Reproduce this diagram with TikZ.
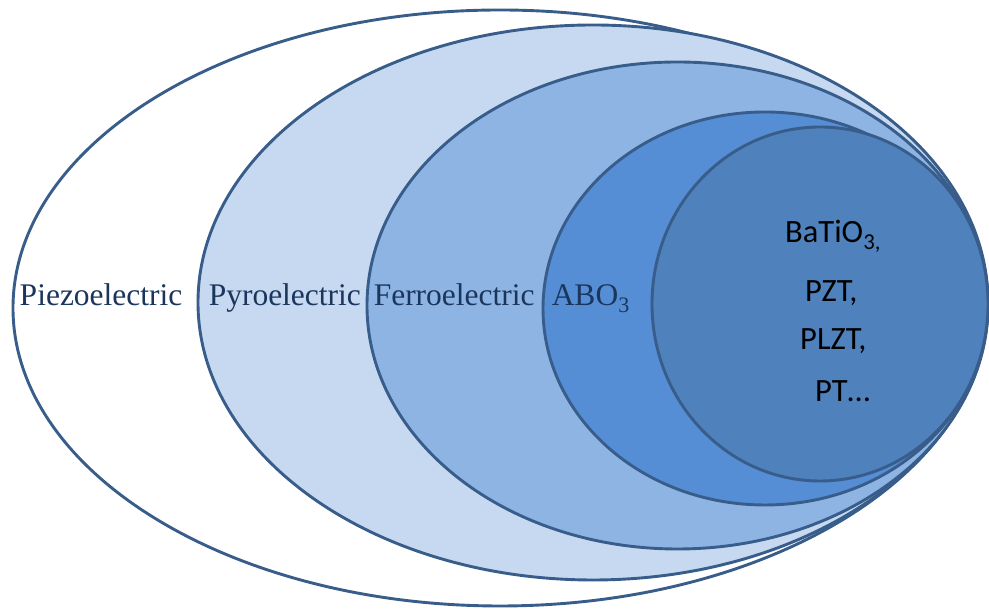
\documentclass[tikz,border=0pt]{standalone}
\usepackage{fontspec}
\setmainfont{Liberation Serif}
\newfontfamily\calibri{Carlito}
\usetikzlibrary{shapes.geometric,positioning}
\definecolor{Edge}{HTML}{385D8A}
\definecolor{Label}{HTML}{1B365D}
\definecolor{PyroFill}{HTML}{C6D9F1}
\definecolor{FerroFill}{HTML}{8EB4E3}
\definecolor{PerovFill}{HTML}{558ED5}
\definecolor{CoreFill}{HTML}{4F81BD}
\begin{document}
\begin{tikzpicture}[
  x=1pt,y=1pt,
  set/.style={ellipse,draw=Edge,line width=2.9pt,inner sep=0pt},
  lbl/.style={font=\fontsize{31.5}{36}\selectfont,text=Label,anchor=base west,inner sep=0pt},
  item/.style={font=\calibri\fontsize{32.5}{38}\selectfont,text=black,anchor=base west,inner sep=0pt}
]
\useasboundingbox (0,0) rectangle (989,609);
% nested sets, outermost first
\node[set,fill=white,minimum width=974,minimum height=596] (piezo) at (500,301) {};
\node[set,fill=PyroFill,minimum width=790,minimum height=555] (pyro) at (593,306.5) {};
\node[set,fill=FerroFill,minimum width=621,minimum height=487] (ferro) at (677.5,303.5) {};
\node[set,fill=PerovFill,minimum width=444,minimum height=393] (abo) at (765,300.5) {};
\node[set,fill=CoreFill,minimum width=336,minimum height=354] (core) at (820,305) {};
% set names
\node[lbl] (piezolbl) at ([xshift=8pt]piezo.west |- 0,303) {Piezoelectric};
\node[lbl] (pyrolbl) at ([xshift=12pt]pyro.west |- 0,303) {Pyroelectric};
\node[lbl] (ferrolbl) at ([xshift=8pt]ferro.west |- 0,303) {Ferroelectric};
\node[lbl] (abolbl) at ([xshift=10pt]abo.west |- 0,303) {ABO\textsubscript{3}};
% examples
\node[item] (bto) at (785,366) {BaTiO\textsubscript{3,}};
\node[item] (pzt) at (805,307) {PZT,};
\node[item] (plzt) at (800,259) {PLZT,};
\node[item] (pt) at (815,207) {PT…};
\end{tikzpicture}
\end{document}
